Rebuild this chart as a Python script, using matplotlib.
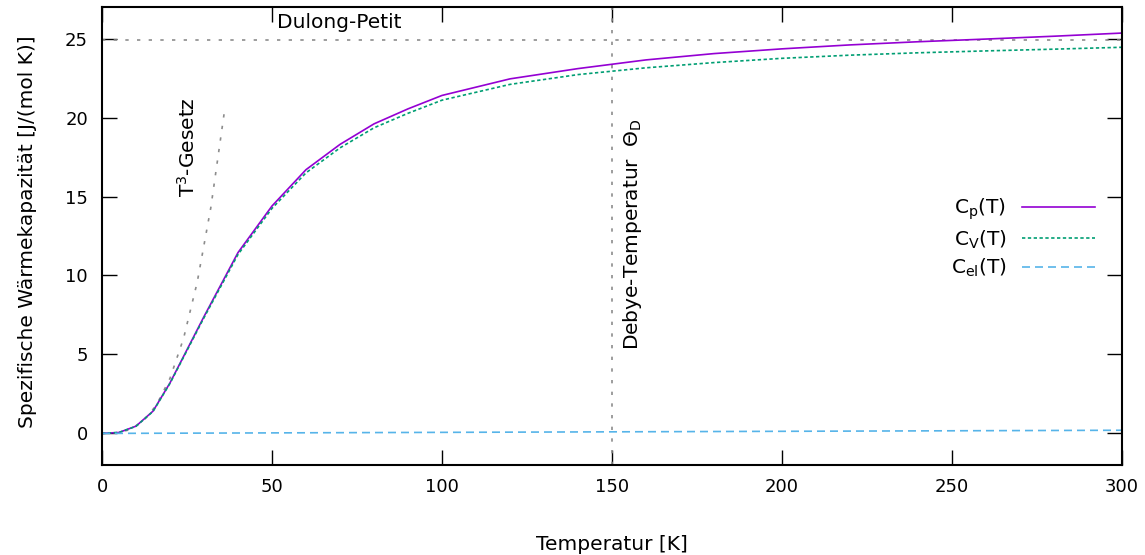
import matplotlib
matplotlib.use("Agg")
import matplotlib.pyplot as plt

# temperatures in K, heat capacities in J/(mol K)
T = [0, 5, 10, 15, 20, 25, 30, 40, 50, 60, 70, 80, 90, 100,
     120, 140, 160, 180, 200, 220, 240, 260, 280, 300]
c_p = [0.0, 0.06, 0.46, 1.41, 3.2, 5.3, 7.4, 11.45, 14.4, 16.7, 18.3, 19.6, 20.55, 21.4,
       22.45, 23.1, 23.65, 24.05, 24.35, 24.6, 24.8, 24.97, 25.15, 25.35]
c_v = [0.0, 0.06, 0.45, 1.39, 3.17, 5.25, 7.33, 11.33, 14.25, 16.5, 18.08, 19.35, 20.27, 21.1,
       22.1, 22.72, 23.15, 23.48, 23.75, 23.95, 24.1, 24.22, 24.33, 24.45]

T_el = [0, 300]
c_el = [0.0, 0.2]

# low temperature T^3 law
T_low = [0, 4, 8, 12, 16, 20, 24, 28, 32, 36.2]
c_t3 = [0.0, 0.028, 0.223, 0.753, 1.786, 3.488, 6.027, 9.571, 14.29, 20.68]

dulong_petit = 24.94
theta_D = 150

plt.rcParams['font.family'] = ['DejaVu Sans']
plt.rcParams['mathtext.default'] = 'regular'
fs = 14.5      # words
fs_tick = 13   # tick numbers

fig = plt.figure(figsize=(11.45, 5.55), dpi=100)
ax = fig.add_axes([102 / 1145, 90 / 555, 1020 / 1145, 458 / 555])

grey = '#8c8c8c'
ax.axhline(dulong_petit, color=grey, lw=1.2, dashes=(2, 5))
ax.axvline(theta_D, color=grey, lw=1.2, dashes=(2, 5))
ax.plot(T_low, c_t3, color=grey, lw=1.2, dashes=(2, 5))

ax.plot(T, c_p, color='#9400d3', lw=1.2, label=r'$C_p(T)$')
ax.plot(T, c_v, color='#009e73', lw=1.2, dashes=(2, 1.5), label=r'$C_V(T)$')
ax.plot(T_el, c_el, color='#56b4e9', lw=1.2, dashes=(4.8, 3), label=r'$C_{el}(T)$')

ax.text(51.5, 26.0, 'Dulong-Petit', fontsize=fs, va='center', ha='left')
ax.text(156, 5.3, r'Debye-Temperatur  $\Theta_D$', fontsize=fs, rotation=90,
        ha='center', va='bottom')
ax.text(25.3, 15.0, r'$T^3$-Gesetz', fontsize=fs, rotation=90,
        ha='center', va='bottom')

ax.set_xlim(0, 300)
ax.set_ylim(-2, 27)
ax.set_xticks(range(0, 301, 50))
ax.set_yticks(range(0, 26, 5))
ax.tick_params(direction='in', length=11, width=1, top=True, right=True,
               labelsize=fs_tick)
ax.tick_params(axis='x', pad=9)
ax.tick_params(axis='y', pad=10)
for s in ax.spines.values():
    s.set_linewidth(1.5)

ax.set_xlabel('Temperatur [K]', fontsize=fs)
ax.set_ylabel('Spezifische Wärmekapazität [J/(mol K)]', fontsize=fs)
ax.xaxis.set_label_coords(0.5, -0.153)
ax.yaxis.set_label_coords(-0.064, 0.51)

ax.legend(loc='center right', bbox_to_anchor=(0.9735, 0.496), frameon=False,
          markerfirst=False, fontsize=fs, handlelength=3.6, handletextpad=0.8,
          labelspacing=0.3, borderpad=0, borderaxespad=0)

fig.savefig('out.png', dpi=100)
